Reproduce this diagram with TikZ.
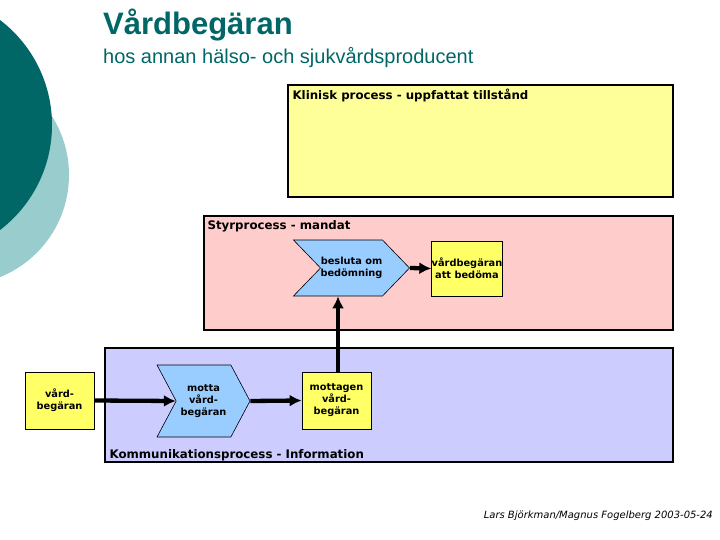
\documentclass[tikz,border=0pt]{standalone}
\usepackage{fontspec}
\setmainfont{DejaVu Sans}
\newfontfamily\arialfont{Liberation Sans}
\usepackage{xcolor}
\usepackage{tikz}
\usetikzlibrary{arrows.meta,positioning,shapes.symbols}
\definecolor{darkteal}{HTML}{006666}
\definecolor{lightteal}{HTML}{99CCCC}
\definecolor{klinfill}{HTML}{FFFF99}
\definecolor{styrfill}{HTML}{FFCCCC}
\definecolor{kommfill}{HTML}{CCCCFF}
\definecolor{chevfill}{HTML}{99CCFF}
\definecolor{objfill}{HTML}{FFFF66}

\begin{document}
\begin{tikzpicture}[x=1pt,y=-1pt,>=Latex,
  proc/.style={draw,line width=1.2pt,inner sep=0pt},
  hdr/.style={inner sep=0pt,font=\bfseries\fontsize{11.8}{14}\selectfont},
  obj/.style={draw,fill=objfill,line width=0.8pt,inner sep=0pt,align=center,
    minimum width=69pt,minimum height=57pt,font=\bfseries\fontsize{9.8}{12}\selectfont},
  act/.style={signal,signal from=west,signal to=east,draw,fill=chevfill,line width=0.6pt,
    inner sep=0pt,align=center,font=\bfseries\fontsize{9.8}{12}\selectfont},
  flow/.style={-{Latex[length=12pt,width=12pt]},line width=4.3pt}]
  \clip (0,0) rectangle (720,540);
  \fill[lightteal] (-41,175) circle[radius=110pt];
  \fill[darkteal] (-80,125) circle[radius=132pt];
  \node[anchor=base west,inner sep=0pt,text=darkteal,font=\arialfont\bfseries\fontsize{31}{36}\selectfont] (T) at (103,35) {Vårdbegäran};
  \node[anchor=base west,inner sep=0pt,text=darkteal,font=\arialfont\fontsize{20}{24}\selectfont] (ST) at (103,64) {hos annan hälso- och sjukvårdsproducent};
  \node[proc,fill=klinfill,minimum width=385pt,minimum height=112pt] (K) at (480.5,141) {};
  \node[hdr,below right=4pt and 5pt of K.north west] (Kt) {Klinisk process - uppfattat tillstånd};
  \node[proc,fill=styrfill,minimum width=469pt,minimum height=114pt] (S) at (438.5,273) {};
  \node[hdr,below right=5pt and 4pt of S.north west] (St) {Styrprocess - mandat};
  \node[proc,fill=kommfill,minimum width=568pt,minimum height=114pt] (C) at (389,405) {};
  \node[hdr,anchor=base west] (Ct) at ([xshift=5pt,yshift=4pt]C.south west) {Kommunikationsprocess - Information};
  \node[act,minimum width=113pt,minimum height=56pt,signal pointer angle=92] (B) at (351.5,268) {besluta om\\bedömning};
  \node[obj,minimum width=70pt,minimum height=55pt] (A) at (467,268.5) {vårdbegäran\\att bedöma};
  \node[obj] (V) at (59.5,400.5) {vård-\\begäran};
  \node[act,minimum width=93pt,minimum height=72pt,signal pointer angle=124] (M) at (203.5,401) {motta\\vård-\\begäran};
  \node[obj] (R) at (336.5,400.5) {mottagen\\vård-\\begäran};
  \draw[flow] (B.east) -- (A.west);
  \draw[flow] (V.east) -- (M.west);
  \draw[flow] (M.east) -- (R.west);
  \draw[flow] ([xshift=1.5pt]R.north) -- ([xshift=1.5pt]R.north |- B.south);
  \node[anchor=base east,inner sep=0pt,font=\itshape\fontsize{10}{12}\selectfont] (F) at (713,518) {Lars Björkman/Magnus Fogelberg 2003-05-24};
\end{tikzpicture}
\end{document}
